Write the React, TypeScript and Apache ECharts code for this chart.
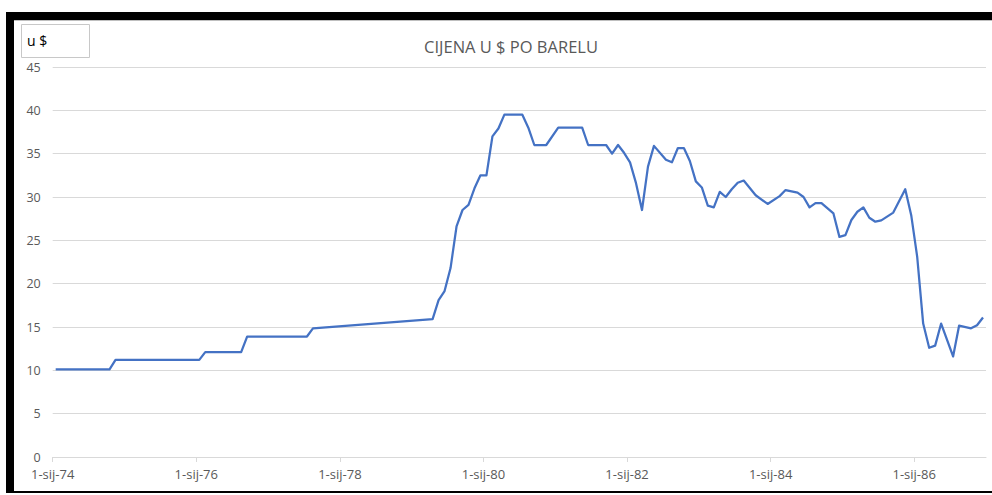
import React, { useEffect, useRef } from "react";
import * as echarts from "echarts";

// Month index counted from January 1974 (0 = sij-74) and price in US$ per barrel
const months: number[] = [
  0, 9, 10, 24, 25, 31, 32, 42, 43, 63, 64, 65, 66, 67, 68, 69, 70, 71, 72, 73, 74, 75, 78, 79, 80, 82, 84, 88,
  89, 92, 93, 94, 95, 96, 97, 98, 99, 100, 102, 103, 104, 105, 106, 107, 108, 109, 110, 111, 112, 113, 114, 115,
  117, 119, 121, 122, 124, 125, 126, 127, 128, 130, 131, 132, 133, 134, 135, 136, 137, 138, 140, 142, 143, 144,
  145, 146, 147, 148, 150, 151, 153, 154, 155,
];
const prices: number[] = [
  10.1, 10.1, 11.2, 11.2, 12.1, 12.1, 13.9, 13.9, 14.85, 15.9, 18.1, 19.15, 21.8, 26.6, 28.5, 29.1, 31.0, 32.5,
  32.5, 37.0, 37.9, 39.5, 39.5, 38.0, 36.0, 36.0, 38.0, 38.0, 36.0, 36.0, 35.0, 36.0, 35.1, 34.0, 31.6, 28.5,
  33.5, 35.9, 34.3, 34.0, 35.65, 35.65, 34.15, 31.8, 31.1, 29.0, 28.8, 30.6, 30.0, 30.9, 31.65, 31.9, 30.2, 29.2,
  30.1, 30.8, 30.5, 30.0, 28.8, 29.3, 29.3, 28.1, 25.4, 25.6, 27.35, 28.3, 28.8, 27.6, 27.15, 27.3, 28.2, 30.9,
  27.9, 23.1, 15.4, 12.6, 12.85, 15.4, 11.6, 15.15, 14.85, 15.2, 16.1,
];
const startYear = 74;
const title = "CIJENA U $ PO BARELU";
const unitLabel = "u $";

export default function App() {
  const ref = useRef<HTMLDivElement>(null);
  useEffect(() => {
    if (!ref.current) return;
    const chart = echarts.init(ref.current, null, { renderer: "svg" });
    const font = "'Open Sans', 'Noto Sans', sans-serif";
    chart.setOption({
      animation: false,
      backgroundColor: "#ffffff",
      textStyle: { fontFamily: font },
      title: {
        text: title,
        left: 506,
        top: 30,
        textAlign: "center",
        textStyle: { fontFamily: font, fontSize: 16.5, fontWeight: "normal", color: "#595959", lineHeight: 22 },
      },
      graphic: [
        { type: "rect", shape: { x: 6, y: 12, width: 986, height: 8 }, style: { fill: "#000" }, silent: true },
        { type: "rect", shape: { x: 6, y: 12, width: 8, height: 481 }, style: { fill: "#000" }, silent: true },
        { type: "rect", shape: { x: 6, y: 491, width: 986, height: 2 }, style: { fill: "#000" }, silent: true },
        { type: "rect", shape: { x: 14, y: 20, width: 978, height: 1 }, style: { fill: "#bfbfbf" }, silent: true },
        {
          type: "rect",
          shape: { x: 21.5, y: 24.5, width: 68, height: 33 },
          style: { fill: "#fff", stroke: "#c8c8c8", lineWidth: 1 },
          silent: true,
        },
        {
          type: "text",
          x: 27,
          y: 40,
          style: { text: unitLabel, fontFamily: font, fontSize: 14, fill: "#000", textVerticalAlign: "middle" },
          silent: true,
        },
      ],
      grid: { left: 52.7, right: 6, top: 67, bottom: 38, containLabel: false },
      xAxis: {
        type: "value",
        min: 0,
        max: 156,
        interval: 24,
        splitLine: { show: false },
        axisLine: { show: true, lineStyle: { color: "#d9d9d9", width: 1 } },
        axisTick: { show: true, length: 5, lineStyle: { color: "#d9d9d9" } },
        axisLabel: {
          showMaxLabel: false,
          color: "#595959",
          fontFamily: font,
          fontSize: 13,
          lineHeight: 13,
          margin: 10.5,
          formatter: (v: number) => `1-sij-${startYear + v / 12}`,
        },
      },
      yAxis: {
        type: "value",
        min: 0,
        max: 45,
        interval: 5,
        axisLine: { show: false },
        axisTick: { show: false },
        splitLine: { lineStyle: { color: "#d9d9d9", width: 1 } },
        axisLabel: { color: "#595959", fontFamily: font, fontSize: 12.5, lineHeight: 12, margin: 12 },
      },
      series: [
        {
          type: "line",
          data: months.map((m, i) => [m + 0.5, prices[i]]),
          showSymbol: false,
          symbol: "none",
          lineStyle: { color: "#4472C4", width: 2.25, join: "round" },
          itemStyle: { color: "#4472C4" },
        },
      ],
    });
    return () => chart.dispose();
  }, []);
  return (
    <div
      ref={ref}
      style={{ position: "absolute", left: 0, top: 0, width: 992, height: 495, background: "#fff" }}
    />
  );
}
